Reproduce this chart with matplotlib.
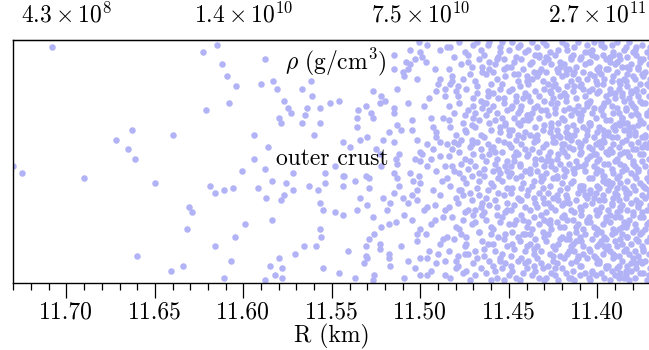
import matplotlib
matplotlib.use("Agg")
import matplotlib.pyplot as plt
from matplotlib.ticker import MultipleLocator, FormatStrFormatter

plt.rcParams["font.family"] = "cmr10"
plt.rcParams["mathtext.fontset"] = "cm"
plt.rcParams["axes.formatter.use_mathtext"] = True

# sparse / intermediate part of the outer crust: R (km) and vertical position (arbitrary, 0-100)
r_sparse = [11.708, 11.615, 11.623, 11.612, 11.609, 11.608, 11.621, 11.663, 11.672, 11.640,
            11.665, 11.661, 11.730, 11.725, 11.690, 11.650, 11.619, 11.616, 11.611, 11.631,
            11.629, 11.632, 11.616, 11.660, 11.634, 11.641, 11.611, 11.607, 11.588, 11.604,
            11.590, 11.583, 11.581, 11.567, 11.562, 11.561, 11.577, 11.575, 11.573, 11.564,
            11.557, 11.551, 11.546, 11.580, 11.579, 11.565, 11.567, 11.557, 11.594, 11.560,
            11.586, 11.544, 11.594, 11.601, 11.588, 11.548, 11.544, 11.606, 11.592, 11.584,
            11.576, 11.572, 11.572, 11.563, 11.554, 11.554, 11.558, 11.544, 11.587, 11.577,
            11.579, 11.557, 11.555, 11.548, 11.544, 11.584, 11.599, 11.557, 11.556, 11.605,
            11.566, 11.559, 11.571, 11.580, 11.585, 11.578, 11.555, 11.582, 11.578, 11.588,
            11.546, 11.515, 11.506, 11.500, 11.501, 11.496, 11.489, 11.485, 11.508, 11.503,
            11.499, 11.497, 11.515, 11.510, 11.507, 11.506, 11.509, 11.502, 11.492, 11.489,
            11.490, 11.486, 11.486, 11.527, 11.522, 11.520, 11.513, 11.523, 11.507, 11.498,
            11.495, 11.491, 11.531, 11.535, 11.536, 11.528, 11.527, 11.515, 11.515, 11.505,
            11.505, 11.513, 11.511, 11.493, 11.491, 11.494, 11.487, 11.536, 11.518, 11.521,
            11.530, 11.534, 11.540, 11.525, 11.523, 11.515, 11.502, 11.500, 11.491, 11.489,
            11.496, 11.493, 11.485, 11.499, 11.494, 11.489, 11.503, 11.512, 11.514, 11.513,
            11.500, 11.496, 11.491, 11.486, 11.522, 11.543, 11.537, 11.531, 11.529, 11.529,
            11.515, 11.513, 11.512, 11.506, 11.504, 11.501, 11.500, 11.502, 11.488, 11.485,
            11.493, 11.489, 11.515, 11.521, 11.534, 11.510, 11.505, 11.507, 11.502, 11.517,
            11.530, 11.536, 11.519, 11.498, 11.496, 11.492, 11.486, 11.527, 11.509, 11.505,
            11.514, 11.518, 11.522, 11.492, 11.494, 11.487, 11.526, 11.500, 11.497, 11.502,
            11.502, 11.485, 11.487, 11.529, 11.531, 11.523, 11.523, 11.511, 11.489, 11.541,
            11.531, 11.530, 11.518, 11.518, 11.532, 11.517, 11.507, 11.500, 11.495, 11.496,
            11.490, 11.486, 11.503, 11.494, 11.491, 11.537, 11.526, 11.527, 11.509, 11.500,
            11.496, 11.486]
y_sparse = [97, 98, 95, 90, 85, 74, 71, 63, 59, 61,
            55, 51, 48, 45, 43, 41, 40, 37, 38, 31,
            29, 22, 15, 11, 7, 5, 2, 9, 92, 81,
            82, 83, 80, 80, 83, 77, 75, 72, 70, 72,
            72, 74, 75, 68, 66, 69, 66, 66, 61, 61,
            56, 58, 51, 46, 47, 48, 44, 39, 39, 42,
            41, 45, 38, 40, 45, 41, 38, 40, 35, 36,
            34, 33, 30, 29, 28, 26, 24, 22, 19, 19,
            15, 15, 12, 10, 7, 6, 6, 3, 2, 1,
            4, 94, 96, 95, 99, 98, 96, 97, 91, 92,
            93, 91, 88, 87, 88, 90, 85, 84, 88, 84,
            82, 80, 77, 79, 77, 75, 80, 74, 74, 73,
            76, 79, 73, 71, 68, 70, 68, 72, 70, 67,
            63, 65, 63, 64, 62, 68, 68, 64, 62, 59,
            60, 59, 56, 55, 53, 58, 59, 54, 60, 58,
            57, 55, 57, 53, 51, 52, 51, 53, 51, 49,
            50, 48, 46, 48, 48, 44, 42, 44, 43, 39,
            45, 43, 40, 45, 42, 44, 41, 38, 42, 43,
            38, 36, 37, 35, 35, 35, 36, 33, 34, 33,
            32, 30, 30, 30, 31, 32, 30, 27, 28, 26,
            25, 24, 23, 26, 24, 27, 20, 22, 20, 20,
            17, 19, 18, 18, 15, 16, 14, 15, 16, 13,
            11, 10, 12, 10, 8, 7, 9, 10, 13, 10,
            12, 9, 6, 5, 8, 2, 3, 1, 2, 3,
            3, 3]

# dense part (R < 11.485 km), one row per 0.005 km band
r_bands = [
    [11.483, 11.480, 11.484, 11.481, 11.482, 11.484, 11.480, 11.483, 11.481, 11.484, 11.482, 11.480, 11.483, 11.481, 11.484, 11.480, 11.482, 11.484, 11.481, 11.483, 11.480, 11.482, 11.484, 11.481, 11.480, 11.483],
    [11.476, 11.479, 11.475, 11.477, 11.478, 11.475, 11.479, 11.477, 11.476, 11.478, 11.475, 11.479, 11.477, 11.476, 11.475, 11.478, 11.479, 11.476, 11.477, 11.475, 11.478, 11.479, 11.476, 11.477, 11.475, 11.479, 11.476, 11.478],
    [11.472, 11.470, 11.473, 11.474, 11.471, 11.470, 11.473, 11.472, 11.474, 11.471, 11.473, 11.470, 11.472, 11.474, 11.471, 11.473, 11.470, 11.474, 11.472, 11.471, 11.473, 11.470, 11.474, 11.471, 11.472, 11.470, 11.473, 11.474, 11.471, 11.470],
    [11.469, 11.466, 11.468, 11.465, 11.467, 11.469, 11.466, 11.465, 11.468, 11.467, 11.469, 11.465, 11.466, 11.468, 11.469, 11.467, 11.465, 11.466, 11.468, 11.469, 11.465, 11.467, 11.466, 11.468, 11.469, 11.465, 11.467, 11.466, 11.469, 11.465, 11.467, 11.468],
    [11.460, 11.463, 11.461, 11.464, 11.462, 11.460, 11.463, 11.464, 11.461, 11.462, 11.460, 11.464, 11.463, 11.461, 11.462, 11.464, 11.460, 11.463, 11.461, 11.464, 11.462, 11.460, 11.463, 11.461, 11.464, 11.462, 11.460, 11.463, 11.464, 11.461, 11.462, 11.464, 11.460, 11.461],
    [11.457, 11.459, 11.455, 11.458, 11.456, 11.459, 11.455, 11.457, 11.458, 11.456, 11.459, 11.455, 11.458, 11.457, 11.459, 11.456, 11.455, 11.458, 11.457, 11.459, 11.456, 11.455, 11.457, 11.459, 11.458, 11.456, 11.455, 11.459, 11.457, 11.456, 11.458, 11.455, 11.459, 11.455, 11.458, 11.456],
    [11.453, 11.450, 11.452, 11.454, 11.451, 11.453, 11.450, 11.454, 11.452, 11.451, 11.453, 11.454, 11.450, 11.452, 11.451, 11.454, 11.453, 11.450, 11.452, 11.454, 11.451, 11.453, 11.450, 11.454, 11.452, 11.451, 11.453, 11.450, 11.454, 11.452, 11.451, 11.450, 11.453, 11.454, 11.451, 11.450, 11.453, 11.451],
    [11.446, 11.448, 11.445, 11.449, 11.447, 11.445, 11.448, 11.446, 11.449, 11.447, 11.445, 11.448, 11.446, 11.449, 11.447, 11.445, 11.449, 11.446, 11.448, 11.445, 11.447, 11.449, 11.446, 11.448, 11.445, 11.447, 11.449, 11.446, 11.445, 11.448, 11.447, 11.449, 11.445, 11.446, 11.448, 11.449, 11.445, 11.447, 11.449, 11.446],
    [11.444, 11.442, 11.440, 11.443, 11.441, 11.444, 11.442, 11.440, 11.443, 11.441, 11.444, 11.440, 11.442, 11.443, 11.441, 11.444, 11.440, 11.443, 11.442, 11.441, 11.444, 11.440, 11.443, 11.442, 11.441, 11.444, 11.440, 11.442, 11.443, 11.441, 11.444, 11.440, 11.442, 11.443, 11.441, 11.444, 11.440, 11.441, 11.444, 11.442],
    [11.437, 11.435, 11.439, 11.436, 11.438, 11.435, 11.437, 11.439, 11.436, 11.438, 11.435, 11.439, 11.437, 11.436, 11.438, 11.435, 11.439, 11.437, 11.436, 11.438, 11.435, 11.439, 11.437, 11.436, 11.438, 11.435, 11.439, 11.437, 11.436, 11.438, 11.435, 11.439, 11.437, 11.436, 11.438, 11.436, 11.438, 11.435, 11.439, 11.437, 11.435, 11.438],
    [11.430, 11.433, 11.431, 11.434, 11.432, 11.434, 11.430, 11.431, 11.433, 11.432, 11.434, 11.430, 11.433, 11.431, 11.432, 11.434, 11.430, 11.432, 11.433, 11.431, 11.434, 11.431, 11.430, 11.433, 11.432, 11.434, 11.433, 11.430, 11.431, 11.434, 11.432, 11.430, 11.433, 11.434, 11.431, 11.432, 11.430, 11.432, 11.434, 11.430, 11.433, 11.431],
    [11.429, 11.426, 11.428, 11.425, 11.427, 11.425, 11.429, 11.428, 11.426, 11.427, 11.429, 11.426, 11.425, 11.428, 11.427, 11.425, 11.429, 11.426, 11.428, 11.427, 11.429, 11.425, 11.427, 11.426, 11.428, 11.429, 11.426, 11.425, 11.427, 11.428, 11.425, 11.429, 11.426, 11.428, 11.427, 11.429, 11.425, 11.428, 11.426, 11.426, 11.425, 11.429, 11.427, 11.425],
    [11.422, 11.424, 11.420, 11.423, 11.421, 11.424, 11.422, 11.420, 11.421, 11.423, 11.420, 11.424, 11.422, 11.423, 11.421, 11.420, 11.423, 11.424, 11.421, 11.422, 11.420, 11.424, 11.421, 11.423, 11.422, 11.420, 11.424, 11.423, 11.421, 11.422, 11.424, 11.420, 11.423, 11.421, 11.424, 11.422, 11.420, 11.421, 11.423, 11.420, 11.424, 11.422, 11.420, 11.423],
    [11.416, 11.418, 11.415, 11.419, 11.417, 11.415, 11.418, 11.416, 11.419, 11.417, 11.419, 11.415, 11.416, 11.418, 11.417, 11.415, 11.419, 11.418, 11.416, 11.417, 11.419, 11.416, 11.415, 11.418, 11.417, 11.419, 11.415, 11.416, 11.418, 11.419, 11.417, 11.415, 11.418, 11.416, 11.419, 11.415, 11.417, 11.418, 11.416, 11.419, 11.419, 11.416, 11.418, 11.415, 11.417, 11.419],
    [11.413, 11.410, 11.414, 11.412, 11.411, 11.413, 11.414, 11.410, 11.412, 11.411, 11.414, 11.413, 11.410, 11.412, 11.411, 11.410, 11.414, 11.413, 11.411, 11.412, 11.410, 11.414, 11.411, 11.413, 11.412, 11.414, 11.410, 11.413, 11.411, 11.412, 11.414, 11.410, 11.411, 11.413, 11.412, 11.410, 11.414, 11.413, 11.411, 11.412, 11.410, 11.410, 11.411, 11.414, 11.410, 11.413],
    [11.405, 11.407, 11.409, 11.406, 11.408, 11.405, 11.409, 11.407, 11.408, 11.406, 11.405, 11.409, 11.407, 11.406, 11.408, 11.409, 11.405, 11.407, 11.408, 11.406, 11.409, 11.405, 11.407, 11.406, 11.408, 11.405, 11.409, 11.408, 11.406, 11.407, 11.405, 11.409, 11.406, 11.408, 11.407, 11.409, 11.405, 11.406, 11.408, 11.407, 11.407, 11.406, 11.408, 11.405, 11.409, 11.406],
    [11.404, 11.401, 11.403, 11.400, 11.402, 11.404, 11.400, 11.403, 11.401, 11.402, 11.404, 11.400, 11.401, 11.403, 11.402, 11.404, 11.400, 11.403, 11.401, 11.402, 11.400, 11.404, 11.403, 11.401, 11.402, 11.400, 11.404, 11.401, 11.403, 11.402, 11.404, 11.400, 11.403, 11.401, 11.402, 11.400, 11.404, 11.401, 11.403, 11.402, 11.400, 11.404, 11.401, 11.404, 11.400, 11.403, 11.401, 11.400],
    [11.396, 11.398, 11.395, 11.399, 11.397, 11.395, 11.399, 11.396, 11.398, 11.397, 11.395, 11.399, 11.398, 11.396, 11.397, 11.399, 11.395, 11.397, 11.398, 11.396, 11.399, 11.395, 11.398, 11.397, 11.396, 11.399, 11.395, 11.397, 11.398, 11.396, 11.395, 11.399, 11.397, 11.396, 11.398, 11.399, 11.395, 11.397, 11.396, 11.398, 11.399, 11.395, 11.397, 11.396, 11.398, 11.399, 11.395, 11.397],
    [11.393, 11.390, 11.392, 11.394, 11.391, 11.393, 11.394, 11.390, 11.392, 11.391, 11.393, 11.390, 11.394, 11.392, 11.391, 11.390, 11.393, 11.394, 11.391, 11.392, 11.390, 11.394, 11.393, 11.391, 11.392, 11.394, 11.390, 11.393, 11.391, 11.392, 11.394, 11.390, 11.393, 11.392, 11.391, 11.394, 11.390, 11.393, 11.391, 11.392, 11.390, 11.394, 11.394, 11.391, 11.390, 11.393, 11.390, 11.392],
    [11.385, 11.387, 11.389, 11.386, 11.388, 11.385, 11.389, 11.387, 11.386, 11.388, 11.385, 11.387, 11.389, 11.386, 11.388, 11.389, 11.385, 11.387, 11.388, 11.386, 11.385, 11.389, 11.387, 11.388, 11.386, 11.389, 11.385, 11.387, 11.386, 11.388, 11.389, 11.385, 11.386, 11.388, 11.387, 11.385, 11.389, 11.386, 11.387, 11.388, 11.385, 11.389, 11.388, 11.386, 11.387, 11.389, 11.385, 11.388, 11.386, 11.389],
    [11.382, 11.384, 11.381, 11.383, 11.380, 11.382, 11.384, 11.381, 11.383, 11.380, 11.384, 11.382, 11.380, 11.383, 11.381, 11.384, 11.382, 11.380, 11.383, 11.381, 11.384, 11.380, 11.382, 11.383, 11.381, 11.384, 11.382, 11.380, 11.383, 11.381, 11.384, 11.380, 11.382, 11.381, 11.383, 11.384, 11.380, 11.382, 11.381, 11.383, 11.380, 11.384, 11.381, 11.383, 11.384, 11.380, 11.382, 11.381, 11.383, 11.382],
    [11.379, 11.376, 11.378, 11.375, 11.377, 11.379, 11.375, 11.377, 11.376, 11.378, 11.379, 11.376, 11.375, 11.377, 11.378, 11.375, 11.379, 11.376, 11.378, 11.377, 11.379, 11.375, 11.376, 11.378, 11.377, 11.375, 11.379, 11.377, 11.376, 11.378, 11.379, 11.375, 11.377, 11.378, 11.376, 11.379, 11.375, 11.377, 11.376, 11.378, 11.379, 11.375, 11.376, 11.378, 11.377, 11.379, 11.375, 11.377, 11.378, 11.376],
    [11.372, 11.374, 11.370, 11.373, 11.371, 11.374, 11.372, 11.370, 11.373, 11.371, 11.374, 11.372, 11.370, 11.373, 11.371, 11.374, 11.372, 11.370, 11.373, 11.371, 11.374, 11.372, 11.370, 11.373, 11.371, 11.374, 11.372, 11.370, 11.373, 11.371, 11.374, 11.372, 11.370, 11.373, 11.371, 11.374, 11.372, 11.370, 11.371, 11.373],
]
y_bands = [
    [2, 9, 13, 18, 27, 31, 35, 40, 46, 52, 55, 61, 64, 70, 73, 79, 85, 88, 93, 97, 23, 48, 67, 58, 6, 82],
    [4, 7, 15, 20, 22, 29, 33, 38, 43, 45, 51, 57, 59, 66, 69, 74, 77, 84, 90, 95, 99, 11, 26, 49, 63, 81, 36, 54],
    [1, 8, 12, 16, 24, 28, 30, 37, 41, 44, 47, 53, 56, 62, 65, 71, 76, 80, 86, 89, 94, 98, 19, 34, 50, 68, 91, 5, 59, 73],
    [3, 6, 10, 17, 21, 25, 31, 33, 39, 42, 48, 52, 55, 58, 64, 67, 72, 75, 78, 83, 87, 92, 96, 99, 13, 28, 45, 61, 70, 89, 36, 81],
    [1, 4, 9, 14, 16, 20, 26, 29, 32, 38, 41, 44, 50, 53, 57, 60, 63, 69, 71, 74, 79, 82, 86, 91, 94, 98, 23, 35, 47, 66, 77, 11, 55, 88],
    [2, 7, 10, 13, 19, 22, 25, 31, 34, 37, 40, 45, 49, 51, 56, 59, 62, 67, 70, 73, 76, 80, 84, 87, 90, 93, 97, 16, 28, 43, 54, 64, 78, 95, 5, 47],
    [1, 3, 8, 12, 15, 18, 24, 27, 29, 33, 36, 42, 44, 48, 50, 54, 58, 61, 65, 68, 71, 74, 79, 82, 85, 89, 92, 96, 99, 20, 39, 57, 76, 6, 30, 63, 88, 46],
    [2, 5, 9, 11, 14, 19, 21, 26, 30, 32, 35, 39, 43, 45, 50, 53, 56, 59, 63, 66, 68, 72, 75, 80, 83, 86, 89, 93, 97, 99, 24, 48, 61, 77, 16, 37, 70, 91, 7, 54],
    [1, 4, 6, 10, 13, 17, 20, 23, 28, 31, 34, 36, 41, 44, 46, 49, 52, 57, 60, 62, 65, 69, 73, 76, 78, 81, 85, 88, 92, 95, 98, 15, 26, 39, 55, 71, 83, 8, 48, 67],
    [3, 5, 9, 12, 16, 18, 22, 25, 27, 30, 33, 38, 40, 42, 47, 49, 53, 55, 58, 61, 64, 67, 70, 72, 75, 79, 82, 84, 87, 90, 94, 96, 99, 7, 20, 35, 45, 60, 77, 91, 51, 68],
    [1, 2, 6, 10, 13, 15, 19, 21, 24, 28, 31, 33, 37, 39, 42, 46, 48, 51, 54, 56, 59, 63, 65, 68, 71, 73, 77, 80, 83, 85, 88, 91, 93, 97, 99, 8, 26, 44, 61, 75, 87, 35],
    [2, 4, 7, 9, 12, 15, 17, 20, 22, 26, 29, 31, 35, 37, 40, 43, 45, 48, 52, 54, 57, 60, 62, 66, 69, 71, 74, 76, 79, 82, 84, 87, 90, 92, 95, 98, 11, 33, 50, 64, 81, 93, 24, 58],
    [1, 3, 6, 8, 11, 14, 16, 19, 23, 25, 27, 30, 34, 36, 38, 41, 44, 47, 49, 53, 55, 58, 60, 63, 66, 68, 72, 74, 77, 80, 82, 85, 88, 91, 94, 96, 99, 18, 43, 57, 70, 87, 32, 51],
    [2, 4, 8, 10, 12, 15, 18, 20, 23, 26, 28, 30, 33, 36, 39, 41, 44, 46, 49, 52, 54, 56, 59, 62, 64, 67, 69, 72, 75, 78, 81, 83, 86, 88, 90, 93, 96, 98, 13, 27, 47, 61, 77, 92, 35, 57],
    [1, 3, 5, 9, 11, 13, 16, 19, 21, 24, 26, 29, 31, 34, 37, 39, 42, 45, 48, 50, 53, 55, 58, 61, 63, 65, 68, 71, 73, 76, 79, 81, 84, 87, 89, 92, 94, 97, 99, 17, 40, 56, 70, 86, 7, 47],
    [2, 4, 7, 10, 12, 14, 17, 20, 22, 25, 27, 30, 32, 35, 38, 40, 43, 46, 48, 51, 54, 56, 59, 61, 64, 66, 69, 71, 74, 77, 79, 82, 84, 87, 90, 93, 95, 98, 15, 36, 49, 63, 80, 91, 28, 73],
    [1, 3, 5, 8, 11, 13, 15, 18, 20, 23, 25, 28, 30, 33, 35, 37, 40, 43, 45, 48, 50, 52, 55, 57, 60, 62, 65, 68, 70, 72, 75, 78, 80, 83, 85, 88, 91, 93, 96, 99, 22, 38, 53, 66, 82, 94, 10, 47],
    [2, 4, 6, 9, 12, 14, 16, 19, 21, 24, 26, 29, 31, 34, 36, 39, 41, 44, 46, 49, 51, 54, 56, 59, 61, 64, 67, 69, 72, 74, 77, 79, 82, 84, 86, 89, 92, 94, 97, 99, 8, 27, 42, 58, 71, 87, 18, 63],
    [1, 3, 5, 7, 10, 13, 15, 17, 20, 22, 25, 27, 30, 32, 35, 37, 40, 42, 45, 47, 50, 53, 55, 57, 60, 62, 65, 67, 70, 73, 75, 78, 80, 83, 85, 88, 90, 93, 95, 98, 21, 38, 49, 64, 76, 91, 11, 33],
    [2, 4, 6, 9, 11, 13, 15, 18, 20, 22, 25, 27, 29, 32, 34, 36, 39, 41, 44, 46, 48, 51, 53, 56, 58, 60, 63, 65, 68, 70, 72, 75, 77, 80, 82, 84, 87, 89, 92, 94, 96, 99, 7, 16, 30, 43, 54, 66, 78, 91],
    [1, 3, 5, 7, 10, 12, 14, 16, 19, 21, 23, 26, 28, 30, 33, 35, 37, 40, 42, 45, 47, 49, 52, 54, 57, 59, 61, 64, 66, 69, 71, 73, 76, 78, 81, 83, 85, 88, 90, 93, 95, 97, 8, 24, 38, 50, 62, 74, 86, 99],
    [2, 4, 6, 8, 11, 13, 15, 17, 20, 22, 24, 27, 29, 31, 34, 36, 38, 41, 43, 46, 48, 50, 53, 55, 58, 60, 62, 65, 67, 70, 72, 74, 77, 79, 82, 84, 86, 89, 91, 94, 96, 98, 9, 18, 32, 44, 56, 69, 80, 92],
    [1, 4, 6, 9, 12, 14, 17, 19, 22, 25, 27, 30, 32, 35, 38, 40, 43, 45, 48, 51, 53, 56, 58, 61, 64, 66, 69, 71, 74, 77, 79, 82, 84, 87, 90, 92, 95, 97, 36, 60],
]

# further dots filling the densest part
r_extra = [11.371, 11.378, 11.374, 11.383, 11.372, 11.380, 11.376, 11.384, 11.371, 11.377,
           11.382, 11.373, 11.379, 11.385, 11.372, 11.376, 11.381, 11.374, 11.383, 11.370,
           11.378, 11.384, 11.375, 11.370, 11.382, 11.377, 11.373, 11.380, 11.384, 11.371,
           11.388, 11.395, 11.391, 11.398, 11.386, 11.393, 11.399, 11.389, 11.396, 11.387,
           11.392, 11.399, 11.390, 11.386, 11.397, 11.393, 11.388, 11.395, 11.391, 11.398,
           11.387, 11.394, 11.389, 11.396, 11.392,
           11.403, 11.411, 11.416, 11.406, 11.419, 11.408, 11.414, 11.402, 11.417, 11.410,
           11.405, 11.413, 11.418, 11.407, 11.415, 11.401, 11.409, 11.404, 11.412, 11.419,
           11.424, 11.436, 11.428, 11.443, 11.431, 11.447, 11.422, 11.439, 11.426, 11.445,
           11.433, 11.441, 11.429, 11.448, 11.421,
           11.455, 11.467, 11.478, 11.459, 11.471, 11.452, 11.463, 11.482, 11.457, 11.475,
           11.469, 11.461]
y_extra = [3, 8, 13, 19, 24, 29, 33, 37, 42, 47,
           52, 57, 61, 66, 70, 75, 79, 85, 89, 93,
           97, 5, 21, 46, 64, 88, 39, 55, 72, 81,
           2, 7, 12, 17, 23, 28, 34, 39, 44, 49,
           54, 58, 63, 68, 73, 78, 83, 88, 94, 98,
           31, 61, 91, 15, 41,
           4, 10, 18, 26, 33, 40, 47, 53, 60, 67,
           74, 81, 88, 95, 2, 37, 57, 86, 23, 71,
           6, 14, 25, 34, 43, 52, 61, 69, 78, 86,
           94, 20, 50, 73, 89,
           9, 21, 38, 46, 57, 66, 74, 83, 92, 12,
           30, 99]

top_ticks = [11.70, 11.60, 11.50, 11.40]
top_labels = [r"$4.3\times10^{8}$", r"$1.4\times10^{10}$", r"$7.5\times10^{10}$", r"$2.7\times10^{11}$"]

r_all = list(r_sparse)
y_all = list(y_sparse)
for rb, yb in zip(r_bands, y_bands):
    for rv, yv in zip(rb, yb):
        r_all.append(rv)
        y_all.append(yv)
for rv, yv in zip(r_extra, y_extra):
    r_all.append(rv)
    y_all.append(yv)

fig = plt.figure(figsize=(6.49, 3.5), dpi=100)
ax = fig.add_axes([0.0205, 0.1923, 0.9818, 0.6934])
ax.scatter(r_all, y_all, s=22, c="#b2b2f6", linewidths=0)

ax.set_xlim(11.73, 11.37)
ax.set_ylim(0, 100)
ax.set_yticks([])
ax.xaxis.set_major_locator(MultipleLocator(0.05))
ax.xaxis.set_minor_locator(MultipleLocator(0.01))
ax.xaxis.set_major_formatter(FormatStrFormatter("%.2f"))
ax.tick_params(axis="x", which="major", direction="out", length=10.5, width=0.9, labelsize=17, pad=3)
ax.tick_params(axis="x", which="minor", direction="out", length=4.8, width=0.9)
ax.set_xlabel("R (km)", fontsize=17, labelpad=0)
for sp in ax.spines.values():
    sp.set_linewidth(1.0)

top = ax.secondary_xaxis("top")
top.set_xticks(top_ticks, labels=top_labels)
top.tick_params(length=0, pad=9, labelsize=17)

ax.text(11.548, 91, r"$\rho\ (\mathrm{g/cm^3})$", ha="center", va="center", fontsize=17)
ax.text(11.55, 51, "outer crust", ha="center", va="center", fontsize=17)

fig.savefig("out.png", dpi=100)
